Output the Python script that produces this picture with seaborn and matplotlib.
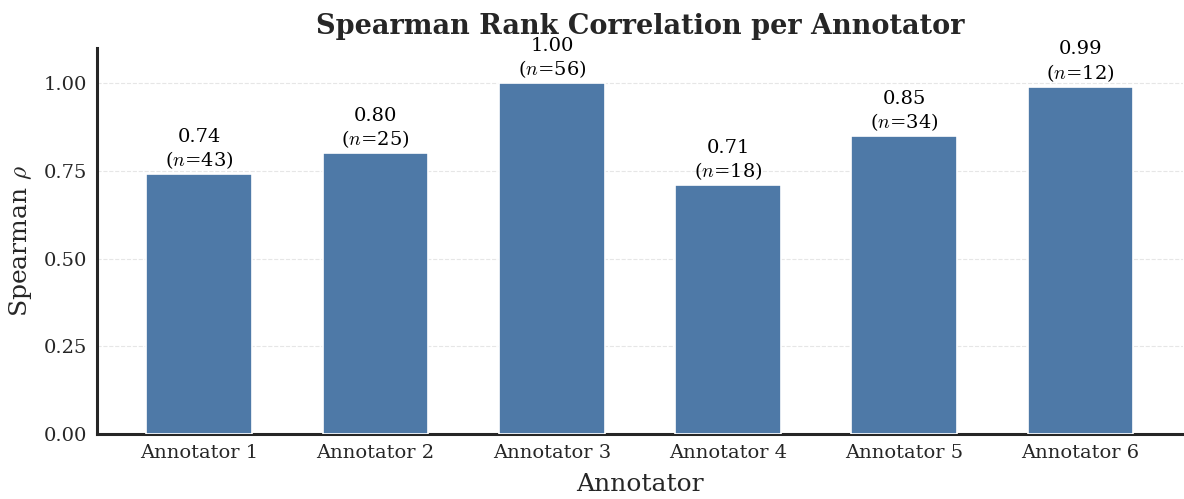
import matplotlib
matplotlib.use('Agg')

import pandas as pd
import seaborn as sns
import matplotlib.pyplot as plt

annotators = ['Annotator 1', 'Annotator 2', 'Annotator 3',
              'Annotator 4', 'Annotator 5', 'Annotator 6']
rho = [0.74, 0.80, 1.00, 0.71, 0.85, 0.99]
n_items = [43, 25, 56, 18, 34, 12]

sns.set_style("white")
plt.rcParams['font.family'] = ['DejaVu Serif']
plt.rcParams['mathtext.fontset'] = 'cm'

df = pd.DataFrame({'Annotator': annotators, 'rho': rho, 'n': n_items})

fig, ax = plt.subplots(figsize=(11.84, 4.99), dpi=100)
fig.subplots_adjust(left=0.082, right=0.999, top=0.904, bottom=0.13)

sns.barplot(data=df, x='Annotator', y='rho', color='#4e79a7', saturation=1,
            edgecolor='white', linewidth=1.2, width=0.6, ax=ax, zorder=3)

# 数值 + 样本数标签
for i, (r, n) in enumerate(zip(rho, n_items)):
    ax.text(i, r + 0.008, f'{r:.2f}\n($n$={n})', ha='center', va='bottom',
            fontsize=14, color='black', linespacing=1.2)

ax.set_xlim(-0.58, len(annotators) - 1 + 0.58)
ax.set_ylim(0, 1.1)
ax.set_yticks([0, 0.25, 0.5, 0.75, 1.0])
ax.set_yticklabels([f'{v:.2f}' for v in [0, 0.25, 0.5, 0.75, 1.0]])
ax.yaxis.grid(True, linestyle='--', color='#e6e6e6', linewidth=0.8, zorder=0)
ax.set_axisbelow(True)

ax.set_title('Spearman Rank Correlation per Annotator', fontsize=19.5,
             fontweight='bold', color='#262626', pad=10)
ax.set_xlabel('Annotator', fontsize=18, color='#262626', labelpad=8)
ax.set_ylabel(r'Spearman $\rho$', fontsize=18, color='#262626', labelpad=7)
ax.tick_params(axis='both', labelsize=14, colors='#262626', length=0, pad=7)

for side in ['top', 'right']:
    ax.spines[side].set_visible(False)
for side in ['left', 'bottom']:
    ax.spines[side].set_color('#262626')
    ax.spines[side].set_linewidth(2.2)

plt.savefig('out.png', dpi=100)
plt.close()
